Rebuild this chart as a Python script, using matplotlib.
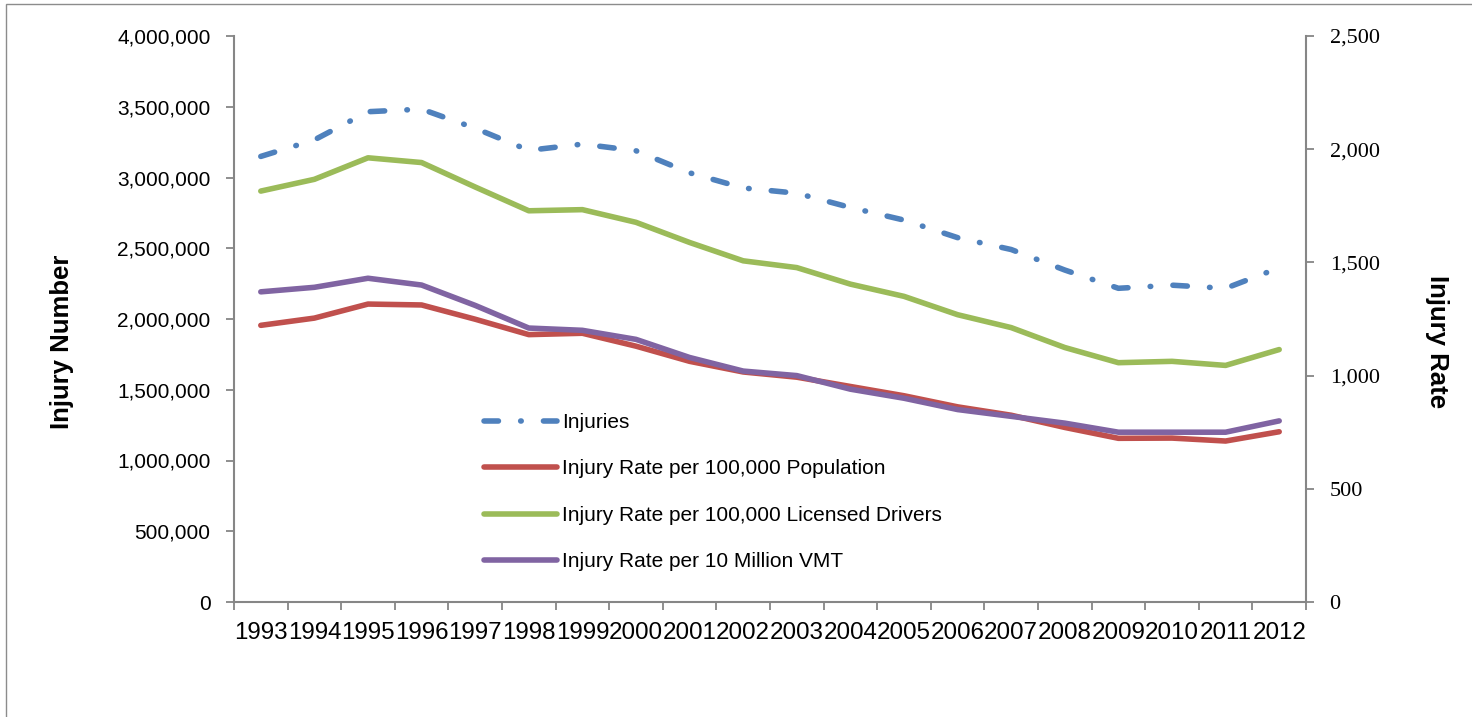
import matplotlib
matplotlib.use("Agg")
import matplotlib.pyplot as plt
from matplotlib.ticker import FuncFormatter, MultipleLocator, FixedLocator
from matplotlib.patches import Rectangle

years = ["1993", "1994", "1995", "1996", "1997", "1998", "1999", "2000", "2001", "2002",
         "2003", "2004", "2005", "2006", "2007", "2008", "2009", "2010", "2011", "2012"]
injuries = [3149000, 3266000, 3465000, 3483000, 3348000, 3192000, 3236000, 3189000, 3033000, 2926000,
            2889000, 2788000, 2699000, 2575000, 2491000, 2346000, 2217000, 2239000, 2217000, 2362000]
rate_pop = [1222, 1254, 1316, 1312, 1249, 1181, 1187, 1130, 1063, 1016,
            993, 952, 911, 862, 825, 771, 723, 724, 711, 752]
rate_drivers = [1815, 1867, 1962, 1941, 1833, 1728, 1733, 1677, 1588, 1507,
                1477, 1404, 1350, 1269, 1212, 1124, 1057, 1063, 1045, 1115]
rate_vmt = [1370, 1390, 1430, 1400, 1310, 1210, 1200, 1160, 1080, 1020,
            1000, 940, 900, 850, 820, 790, 750, 750, 750, 800]

labels = ["Injuries", "Injury Rate per 100,000 Population",
          "Injury Rate per 100,000 Licensed Drivers", "Injury Rate per 10 Million VMT"]

C_BLUE = "#4F81BD"
C_RED = "#C0504D"
C_GREEN = "#9BBB59"
C_PURPLE = "#8064A2"
GRAY = "#868686"

plt.rcParams['font.family'] = ['Liberation Sans', 'DejaVu Sans']

fig = plt.figure(figsize=(14.72, 7.17), dpi=100)
W, H = 1472, 717
x0, x1, ytop, ybot = 234, 1306, 36, 602
ax = fig.add_axes([x0 / W, 1 - ybot / H, (x1 - x0) / W, (ybot - ytop) / H])
ax2 = ax.twinx()

# outer frame
fig.patches.append(Rectangle((6 / W, -0.2), 1.2, 1 - 4 / H + 0.2, transform=fig.transFigure,
                             fill=False, edgecolor="#8c8c8c", linewidth=1.0))

xs = [i + 0.5 for i in range(len(years))]
lw = 4.0
l1, = ax.plot(xs, injuries, color=C_BLUE, lw=lw, linestyle=(0, (2.6, 4.0, 0.1, 4.0)),
              dash_capstyle='round', label=labels[0])
l2, = ax2.plot(xs, rate_pop, color=C_RED, lw=lw, solid_capstyle='round', label=labels[1])
l3, = ax2.plot(xs, rate_drivers, color=C_GREEN, lw=lw, solid_capstyle='round', label=labels[2])
l4, = ax2.plot(xs, rate_vmt, color=C_PURPLE, lw=lw, solid_capstyle='round', label=labels[3])

ax.set_xlim(0, len(years))
ax.set_ylim(0, 4000000)
ax2.set_ylim(0, 2500)
ax.yaxis.set_major_locator(MultipleLocator(500000))
ax2.yaxis.set_major_locator(MultipleLocator(500))
ax.yaxis.set_major_formatter(FuncFormatter(lambda v, p: f"{int(v):,}"))
ax2.yaxis.set_major_formatter(FuncFormatter(lambda v, p: f"{int(v):,}"))

# category axis: tick marks at boundaries, labels at centres
ax.xaxis.set_major_locator(FixedLocator(list(range(len(years) + 1))))
ax.set_xticklabels([])
ax.xaxis.set_minor_locator(FixedLocator(xs))
ax.set_xticklabels(years, minor=True)
ax.tick_params(axis='x', which='major', direction='out', length=6, width=1.3, color=GRAY)
ax.tick_params(axis='x', which='minor', length=0, pad=14.5, labelsize=17.4, labelcolor='black')

ax.tick_params(axis='y', direction='out', length=6, width=1.3, color=GRAY, pad=11,
               labelsize=15, labelcolor='black')
ax2.tick_params(axis='y', direction='out', length=6, width=1.3, color=GRAY, pad=11,
                labelsize=16, labelcolor='black')
for t in ax2.get_yticklabels():
    t.set_fontfamily('Liberation Serif')

for a in (ax, ax2):
    a.spines['top'].set_visible(False)
    for s in ('left', 'right', 'bottom'):
        a.spines[s].set_color(GRAY)
        a.spines[s].set_linewidth(1.5)
ax.spines['right'].set_visible(False)
ax2.spines['left'].set_visible(False)
ax2.spines['bottom'].set_visible(False)
ax.patch.set_visible(False)

fig.text(62 / W, 1 - 342 / H, "Injury Number", rotation=90, ha='center', va='center',
         fontsize=18.5, fontweight='bold')
fig.text(1437 / W, 1 - 342 / H, "Injury Rate", rotation=270, ha='center', va='center',
         fontsize=18.5, fontweight='bold')

leg = ax2.legend(handles=[l1, l2, l3, l4], loc='upper left', bbox_to_anchor=(0.233, 0.334),
                 frameon=False, fontsize=15, handlelength=3.5, handletextpad=0.25,
                 labelspacing=1.32, borderpad=0, borderaxespad=0)

fig.savefig("out.png", dpi=100)
